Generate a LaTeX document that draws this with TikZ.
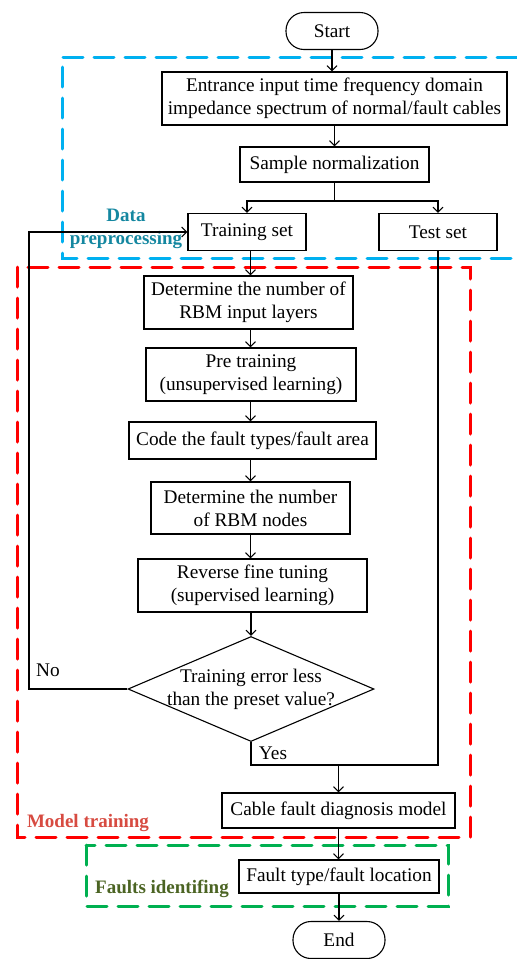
\documentclass[tikz,border=0pt]{standalone}
\usepackage{fontspec}
\setmainfont{Liberation Serif}
\usetikzlibrary{shapes.geometric,arrows.meta}
\definecolor{dblue}{RGB}{0,176,240}
\definecolor{dred}{RGB}{255,0,0}
\definecolor{dgreen}{RGB}{0,176,80}
\definecolor{tealtxt}{RGB}{20,135,160}
\definecolor{redtxt}{RGB}{215,75,65}
\definecolor{greentxt}{RGB}{75,100,35}
\begin{document}
\begin{tikzpicture}[x=1pt,y=-1pt,
  every node/.style={font=\fontsize{19.3}{23}\selectfont},
  box/.style={draw, line width=1.1pt, inner sep=0pt, align=center},
  term/.style={draw, line width=1.1pt, inner sep=0pt, rounded corners=18pt, minimum width=92pt, minimum height=37pt},
  conn/.style={line width=1.1pt},
  arr/.style={line width=1.1pt, -{Straight Barb[length=5pt,width=10pt]}},
  region/.style={line width=3pt, dash pattern=on 20pt off 11pt, line cap=round},
  tag/.style={font=\fontsize{19}{23}\selectfont\bfseries, align=center}
]
\useasboundingbox (0,0) rectangle (517,959);

% regions
\draw[region, dblue] (517,57) -- (62,57) -- (62,258) -- (517,258);
\draw[region, dred] (17,267) rectangle (470,837);
\draw[region, dgreen] (86,845) rectangle (448,906);

% nodes
\node[term] (start) at (332,31) {Start};
\node[box, minimum width=345pt, minimum height=53pt] (entr) at (334.5,98.5) {Entrance input time frequency domain\\impedance spectrum of normal/fault cables};
\node[box, minimum width=189pt, minimum height=35pt] (samp) at (334.5,164.5) {Sample normalization};
\node[box, minimum width=118pt, minimum height=37pt] (train) at (247,232) {Training set};
\node[box, minimum width=118pt, minimum height=37pt] (test) at (438,232) {Test set};
\node[box, minimum width=209pt, minimum height=53pt] (det1) at (248.5,302.5) {Determine the number of\\RBM input layers};
\node[box, minimum width=210pt, minimum height=53pt] (pre) at (251,374.5) {Pre training\\(unsupervised learning)};
\node[box, minimum width=247pt, minimum height=37pt] (code) at (252.5,440.5) {Code the fault types/fault area};
\node[box, minimum width=199pt, minimum height=52pt] (det2) at (250.5,508) {Determine the number\\of RBM nodes};
\node[box, minimum width=229pt, minimum height=53pt] (rev) at (252.5,585.5) {Reverse fine tuning\\(supervised learning)};
\node[diamond, draw, line width=1.1pt, inner sep=0pt, minimum width=246pt, minimum height=105pt] (dec) at (251,689) {};
\node[align=center] (dectext) at (dec.center) {Training error less\\than the preset value?};
\node[box, minimum width=233pt, minimum height=35pt] (cable) at (338.5,810.5) {Cable fault diagnosis model};
\node[box, minimum width=200pt, minimum height=33pt] (fault) at (339,876.5) {Fault type/fault location};
\node[term] (end) at (339,940) {End};

% labels
\node[tag, text=tealtxt] (lbldata) at (126,229) {Data\\preprocessing};
\node[tag, text=redtxt] (lblmodel) at (88,823) {Model training};
\node[tag, text=greentxt] (lblfault) at (162,889) {Faults identifing};
\node (lblno) at (48,670) {No};
\node (lblyes) at (273,753) {Yes};

% connectors
\coordinate (cx) at (250.5,0);
\coordinate (split) at (334.5,201);
\coordinate (fb) at (29,689);
\coordinate (jr) at (438,765);
\coordinate (jm) at (338.5,765);

\draw[arr] (start.south) -- (start.south |- entr.north);
\draw[arr] (entr.south -| samp.north) -- (samp.north);
\draw[conn] (samp.south) -- (split);
\draw[arr] (split) -| (train.north);
\draw[arr] (split) -| (test.north);
\draw[arr] (train.south -| cx) -- (det1.north -| cx);
\draw[arr] (det1.south -| cx) -- (pre.north -| cx);
\draw[arr] (pre.south -| cx) -- (code.north -| cx);
\draw[arr] (code.south -| cx) -- (det2.north -| cx);
\draw[arr] (det2.south -| cx) -- (rev.north -| cx);
\draw[arr] (rev.south -| dec.north) -- (dec.north);
\draw[arr] (dec.west) -- (fb) |- (train.west);
\draw[conn] (dec.south) |- (jr) -- (test.south);
\draw[arr] (jm) -- (cable.north);
\draw[arr] (cable.south) -- (fault.north -| cable.south);
\draw[arr] (fault.south) -- (end.north -| fault.south);
\end{tikzpicture}
\end{document}
